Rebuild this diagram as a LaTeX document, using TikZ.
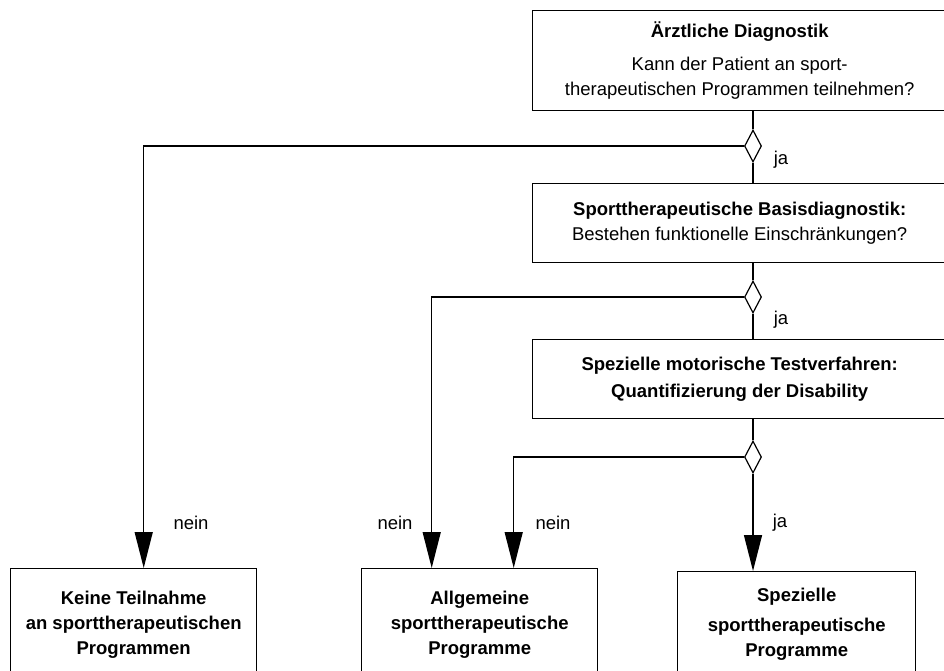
\documentclass[tikz,border=0pt]{standalone}
\usepackage{fontspec}
\setmainfont{Liberation Sans}
\usetikzlibrary{shapes.geometric,arrows.meta}

\begin{document}
\begin{tikzpicture}[x=1pt,y=-1pt,
    box/.style={draw=black, line width=1.4pt, align=center, anchor=north west,
                inner sep=0pt, font=\fontsize{18.5}{25}\selectfont},
    endbox/.style={box, font=\fontsize{18.5}{25}\selectfont\bfseries},
    choice/.style={draw=black, line width=1.2pt, diamond, inner sep=0pt,
                   minimum width=17pt, minimum height=32pt},
    line/.style={black, line width=1.4pt},
    arrow/.style={line, -{Triangle[length=36pt,width=18pt]}},
    lbl/.style={font=\fontsize{18.5}{22}\selectfont, inner sep=0pt}]

                %% page
                \useasboundingbox (0,0) rectangle (944,670);
                \clip (0,0) rectangle (944,670);

                %% Diagnostik
                \node[box, minimum width=414pt, minimum height=100pt] (arzt) at (532,10)
                    {\textbf{Ärztliche Diagnostik}\\[8pt]
                     Kann der Patient an sport-\\therapeutischen Programmen teilnehmen?};
                \node[box, minimum width=414pt, minimum height=79pt] (basis) at (532,183)
                    {\textbf{Sporttherapeutische Basisdiagnostik:}\\
                     Bestehen funktionelle Einschränkungen?};
                \node[box, minimum width=414pt, minimum height=79pt, font=\fontsize{18.5}{27}\selectfont\bfseries] (test) at (532,339)
                    {Spezielle motorische Testverfahren:\\
                     Quantifizierung der Disability};

                %% Entscheidungen
                \node[choice] (d1) at (753,146) {};
                \node[choice] (d2) at (753,297) {};
                \node[choice] (d3) at (753,457) {};

                %% Programme
                \node[endbox, minimum width=246pt, minimum height=112pt] (keine) at (10,568)
                    {Keine Teilnahme\\an sporttherapeutischen\\Programmen};
                \node[endbox, minimum width=236pt, minimum height=112pt] (allg) at (361,568)
                    {Allgemeine\\sporttherapeutische\\Programme};
                \node[endbox, minimum width=238pt, minimum height=106pt] (spez) at (677,571)
                    {Spezielle\\[5pt]sporttherapeutische\\Programme};

                %% Verbindungen
                \draw[line] (d1.north) -- (d1.north |- arzt.south);
                \draw[line] (d1.south) -- (d1.south |- basis.north);
                \draw[line] (d2.north) -- (d2.north |- basis.south);
                \draw[line] (d2.south) -- (d2.south |- test.north);
                \draw[line] (d3.north) -- (d3.north |- test.south);

                \draw[arrow] (d1.west) -| ([xshift=10pt]keine.north);
                \draw[arrow] (d2.west) -| ([xshift=-48pt]allg.north);
                \draw[arrow] (d3.west) -| ([xshift=34pt]allg.north);
                \draw[arrow] (d3.south) -- (d3.south |- spez.north);

                %% Beschriftungen
                \node[lbl] (ja1) at (781,160) {ja};
                \node[lbl] (ja2) at (781,320) {ja};
                \node[lbl] (ja3) at (780,523) {ja};
                \node[lbl] (nein1) at (191,523) {nein};
                \node[lbl] (nein2) at (395,523) {nein};
                \node[lbl] (nein3) at (553,523) {nein};

\end{tikzpicture}
\end{document}
